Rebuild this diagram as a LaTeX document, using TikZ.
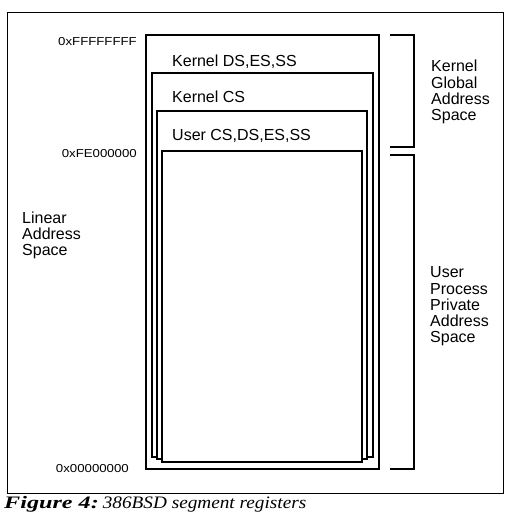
\documentclass[tikz,border=0pt]{standalone}
\usepackage{fontspec}
\setmainfont{Liberation Serif}
\setsansfont{Liberation Sans}
\begin{document}
\begin{tikzpicture}[x=1pt,y=-1pt,
  frame/.style={draw,line width=1pt},
  seg/.style={draw,fill=white,line width=1.8pt},
  bracket/.style={draw,line width=1.8pt},
  lbl/.style={font=\sffamily\fontsize{16}{16.5}\selectfont,inner sep=0pt,anchor=base west},
  side/.style={font=\sffamily\fontsize{16}{16.3}\selectfont,inner sep=0pt,align=left,anchor=north west},
  hex/.style={font=\sffamily\fontsize{11.5}{12}\selectfont,inner sep=0pt,anchor=base east}
]
\useasboundingbox (0,0) rectangle (512,528);
% outer frame
\draw[frame] (7,12) rectangle (503,493);
% segments
\draw[seg] (146,35) rectangle (379,469);
\draw[seg] (152,73) rectangle (373,457);
\draw[seg] (157,111) rectangle (367,459);
\draw[seg] (162,151) rectangle (362,462);
% brackets
\draw[bracket] (390,35) -- (414,35) -- (414,147) -- (390,147);
\draw[bracket] (390,155) -- (414,155) -- (414,469) -- (390,469);
% segment labels
\node[lbl] (kds) at (172,66) {Kernel DS,ES,SS};
\node[lbl] (kcs) at (172,102) {Kernel CS};
\node[lbl] (ucs) at (172,140) {User CS,DS,ES,SS};
% addresses
\node[hex] (top) at (137,45) {\scalebox{1.15}[1]{0xFFFFFFFF}};
\node[hex] (mid) at (137,157) {\scalebox{1.15}[1]{0xFE000000}};
\node[hex] (bot) at (129,472) {\scalebox{1.15}[1]{0x00000000}};
% side labels
\node[side] (lin) at (22,211.5) {Linear\\Address\\Space};
\node[side] (kga) at (431,60) {Kernel\\Global\\Address\\Space};
\node[side] (upp) at (430,266.5) {User\\Process\\Private\\Address\\Space};
% caption
\node[inner sep=0pt,anchor=base west] (cap) at (4,508)
  {\fontsize{17.5}{18}\selectfont\scalebox{1.38}[1]{\bfseries\itshape Figure 4:}\hspace{4pt}\scalebox{1.1}[1]{\itshape 386BSD segment registers}};
\end{tikzpicture}
\end{document}
